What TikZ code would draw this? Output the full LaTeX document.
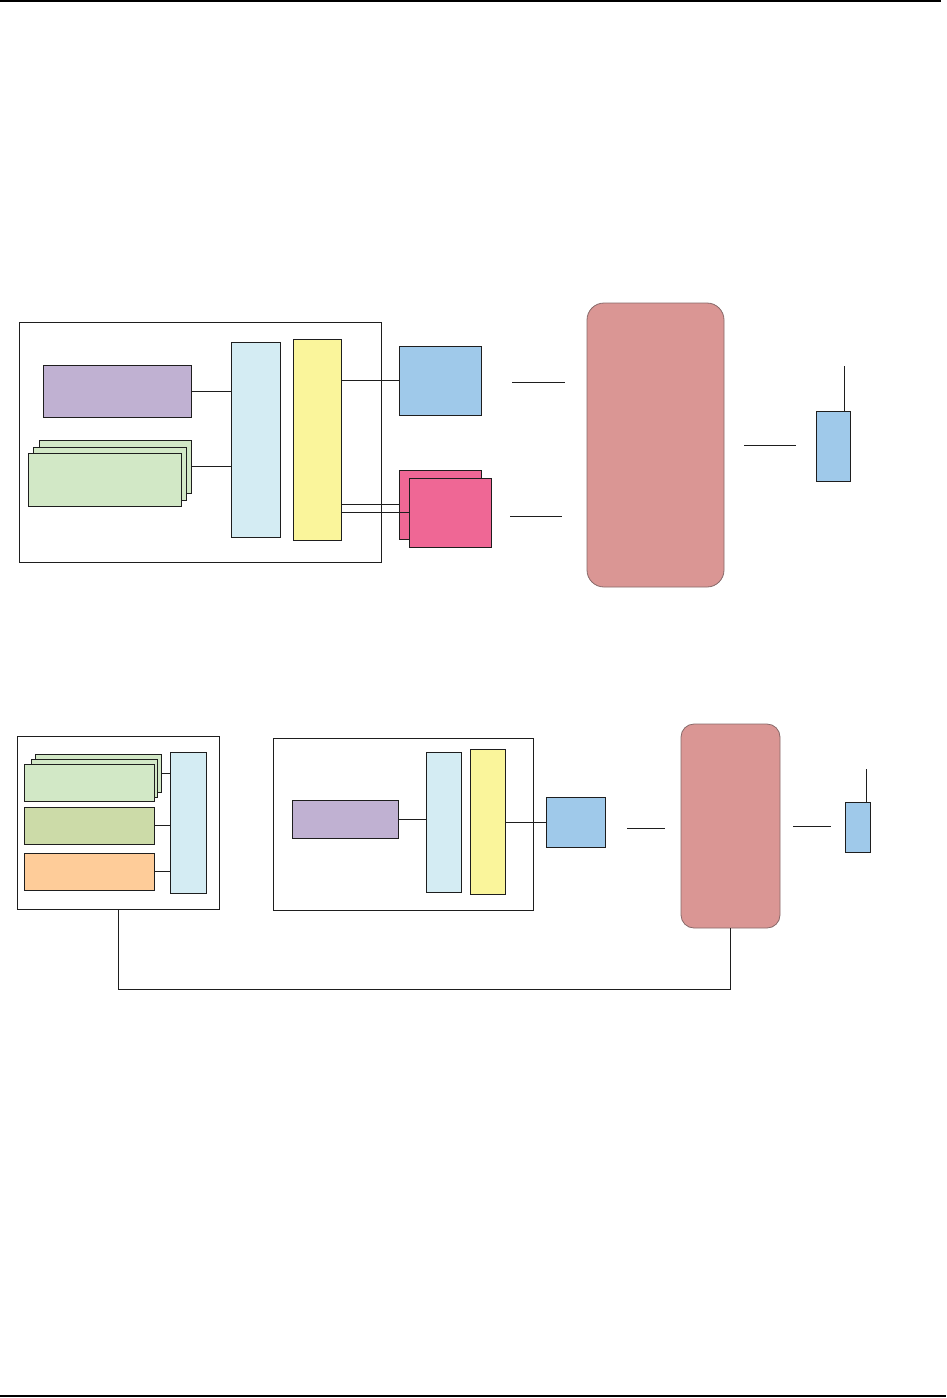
\documentclass[tikz,border=0pt]{standalone}
\definecolor{cpurple}{RGB}{192,177,210}
\definecolor{cgreen}{RGB}{210,232,198}
\definecolor{colive}{RGB}{204,219,168}
\definecolor{corange}{RGB}{254,204,153}
\definecolor{ccyan}{RGB}{212,236,243}
\definecolor{cyellow}{RGB}{250,245,155}
\definecolor{cblue}{RGB}{159,201,234}
\definecolor{cpink}{RGB}{239,103,149}
\definecolor{crose}{RGB}{218,150,148}
\definecolor{croseedge}{RGB}{135,105,105}
\definecolor{cline}{RGB}{30,30,30}
\begin{document}
\begin{tikzpicture}[x=1pt,y=-1pt,
  blk/.style={draw=cline,line width=0.9pt,rectangle,inner sep=0pt,outer sep=0pt,anchor=north west},
  frame/.style={blk,fill=white},
  hub/.style={draw=croseedge,line width=0.8pt,fill=crose,rounded corners=#1,rectangle,inner sep=0pt,outer sep=0pt,anchor=north west},
  wire/.style={draw=cline,line width=0.9pt},
  rule/.style={draw=black,line width=2.5pt}]
\useasboundingbox (0,0) rectangle (946,1398);
% page rules
\coordinate (rt1) at (0,1); \coordinate (rt2) at (941,1);
\coordinate (rb1) at (0,1396); \coordinate (rb2) at (946,1396);
\draw[rule] (rt1) -- (rt2);
\draw[rule] (rb1) -- (rb2);

% ---------- top diagram ----------
\node[frame,minimum width=362pt,minimum height=240pt] (tbox) at (19,322) {};
\node[blk,fill=cpurple,minimum width=148pt,minimum height=52pt] (tpur) at (43,365) {};
\node[blk,fill=cgreen,minimum width=152pt,minimum height=53pt] (tg3) at (39,440) {};
\node[blk,fill=cgreen,minimum width=153pt,minimum height=53pt] (tg2) at (33,447) {};
\node[blk,fill=cgreen,minimum width=153pt,minimum height=53pt] (tg1) at (28,453) {};
\node[blk,fill=ccyan,minimum width=49pt,minimum height=195pt] (tcy) at (231,342) {};
\node[blk,fill=cyellow,minimum width=48pt,minimum height=201pt] (tye) at (293,339) {};
\node[blk,fill=cblue,minimum width=82pt,minimum height=69pt] (tbl) at (399,346) {};
\node[blk,fill=cpink,minimum width=82pt,minimum height=69pt] (tpk2) at (399,470) {};
\node[blk,fill=cpink,minimum width=82pt,minimum height=69pt] (tpk1) at (409,478) {};
\node[hub=17pt,minimum width=137pt,minimum height=284pt] (thub) at (587,303) {};
\node[blk,fill=cblue,minimum width=34pt,minimum height=70pt] (tdev) at (816,411) {};

\draw[wire] (tpur.east) -- (tcy.west |- tpur.east);
\draw[wire] (tg3.east) -- (tcy.west |- tg3.east);
\draw[wire] (tbl.west) -- (tye.east |- tbl.west);
\draw[wire] (tpk2.west) -- (tye.east |- tpk2.west);
\draw[wire] (tpk1.west) -- (tye.east |- tpk1.west);
\coordinate (ta1) at (512,382); \coordinate (ta2) at (565,382);
\coordinate (tb1) at (510,516); \coordinate (tb2) at (562,516);
\coordinate (tc1) at (744,445); \coordinate (tc2) at (796,445);
\coordinate (tant) at (844,366);
\draw[wire] (ta1) -- (ta2);
\draw[wire] (tb1) -- (tb2);
\draw[wire] (tc1) -- (tc2);
\draw[wire] (tant) -- (tant |- tdev.north);

% ---------- bottom diagram ----------
\node[frame,minimum width=202pt,minimum height=173pt] (lbox) at (17,736) {};
\node[blk,fill=cgreen,minimum width=126pt,minimum height=38pt] (bg3) at (35,754) {};
\node[blk,fill=cgreen,minimum width=126pt,minimum height=38pt] (bg2) at (31,759) {};
\node[blk,fill=cgreen,minimum width=130pt,minimum height=37pt] (bg1) at (24,764) {};
\node[blk,fill=colive,minimum width=130pt,minimum height=37pt] (bol) at (24,807) {};
\node[blk,fill=corange,minimum width=130pt,minimum height=37pt] (bor) at (24,853) {};
\node[blk,fill=ccyan,minimum width=36pt,minimum height=141pt] (bcy1) at (170,752) {};

\node[frame,minimum width=260pt,minimum height=172pt] (rbox) at (273,738) {};
\node[blk,fill=cpurple,minimum width=106pt,minimum height=38pt] (bpur) at (292,800) {};
\node[blk,fill=ccyan,minimum width=35pt,minimum height=140pt] (bcy2) at (426,752) {};
\node[blk,fill=cyellow,minimum width=35pt,minimum height=145pt] (bye) at (470,749) {};
\node[blk,fill=cblue,minimum width=59pt,minimum height=50pt] (bbl) at (546,797) {};
\node[hub=13pt,minimum width=99pt,minimum height=204pt] (bhub) at (681,724) {};
\node[blk,fill=cblue,minimum width=25pt,minimum height=50pt] (bdev) at (845,802) {};

\draw[wire] (bg3.east) -- (bcy1.west |- bg3.east);
\draw[wire] (bol.east) -- (bcy1.west |- bol.east);
\draw[wire] (bor.east) -- (bcy1.west |- bor.east);
\draw[wire] (bpur.east) -- (bcy2.west |- bpur.east);
\draw[wire] (bbl.west) -- (bye.east |- bbl.west);
\coordinate (ba1) at (627,828); \coordinate (ba2) at (665,828);
\coordinate (bb1) at (793,826); \coordinate (bb2) at (831,826);
\coordinate (bant) at (866,769);
\coordinate (bus) at (0,989);
\draw[wire] (ba1) -- (ba2);
\draw[wire] (bb1) -- (bb2);
\draw[wire] (bant) -- (bant |- bdev.north);
\draw[wire] (lbox.south) |- (bus -| bhub.south) -- (bhub.south);
\end{tikzpicture}
\end{document}
